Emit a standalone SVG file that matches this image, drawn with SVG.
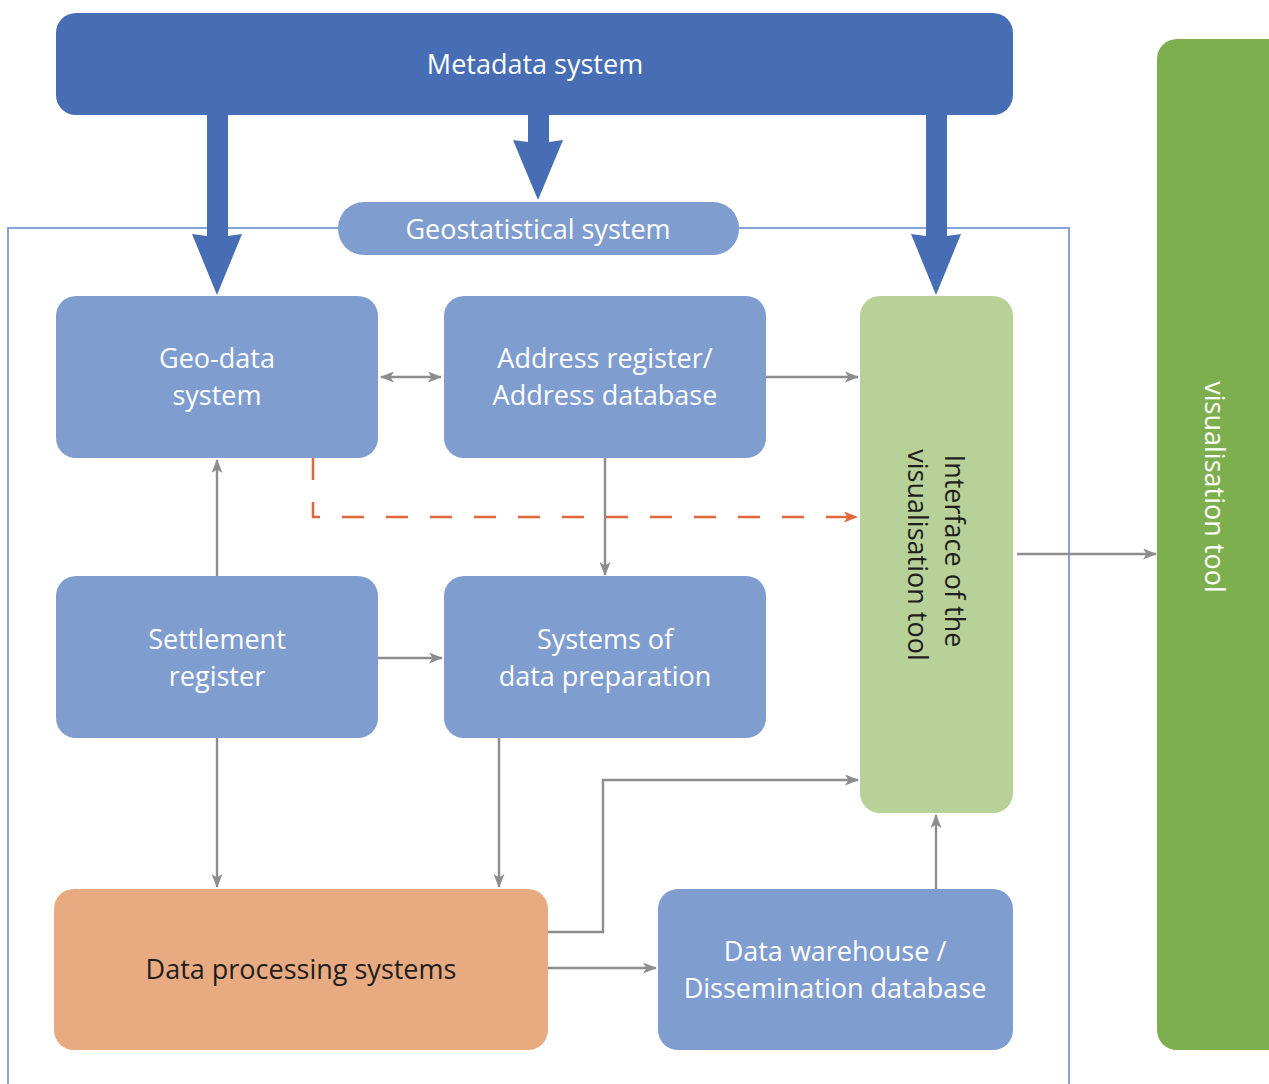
<svg xmlns="http://www.w3.org/2000/svg" width="1269" height="1084" viewBox="0 0 1269 1084">
<defs>
<style>
.t{font-family:"Open Sans","Liberation Sans",sans-serif;font-size:27px;fill:#fff;text-anchor:middle;dominant-baseline:central}
.d{fill:#1e1e1e}
.blue{fill:#7f9dcf}
.c{fill:none;stroke:#8d8d8d;stroke-width:2.4}
.big{fill:#476eb4}
</style>
<marker id="ah" viewBox="0 0 14 11" refX="13" refY="5.5" markerWidth="14" markerHeight="11" markerUnits="userSpaceOnUse" orient="auto-start-reverse">
<path d="M0,0 L14,5.5 L0,11 L3.5,5.5 Z" fill="#8d8d8d"/>
</marker>
<marker id="ao" viewBox="0 0 14 11" refX="13" refY="5.5" markerWidth="14" markerHeight="11" markerUnits="userSpaceOnUse" orient="auto">
<path d="M0,0 L14,5.5 L0,11 L3.5,5.5 Z" fill="#e2683c"/>
</marker>
</defs>
<rect width="1269" height="1084" fill="#fff"/>
<path d="M8,1084 V228 H1069 V1084" fill="none" stroke="#86a3d8" stroke-width="2"/>
<g id="visualisation-tool">
<rect x="1157" y="39" width="140" height="1011" rx="20" fill="#7daf4e"/>
<text class="t" transform="translate(1215,487) rotate(90)">visualisation tool</text>
</g>
<g id="metadata-system">
<rect x="56" y="13" width="957" height="102" rx="20" fill="#476eb4"/>
<text class="t" x="535" y="63">Metadata system</text>
</g>
<g id="geostatistical-system">
<rect x="338" y="202" width="401" height="53" rx="26" class="blue"/>
<text class="t" x="538" y="228">Geostatistical system</text>
</g>
<g id="geo-data-system">
<rect x="56" y="296" width="322" height="162" rx="20" class="blue"/>
<text class="t" x="217" y="357">Geo-data</text>
<text class="t" x="217" y="394">system</text>
</g>
<g id="address-register">
<rect x="444" y="296" width="322" height="162" rx="20" class="blue"/>
<text class="t" x="605" y="357">Address register/</text>
<text class="t" x="605" y="394">Address database</text>
</g>
<g id="settlement-register">
<rect x="56" y="576" width="322" height="162" rx="20" class="blue"/>
<text class="t" x="217" y="638">Settlement</text>
<text class="t" x="217" y="675">register</text>
</g>
<g id="systems-of-data-preparation">
<rect x="444" y="576" width="322" height="162" rx="20" class="blue"/>
<text class="t" x="605" y="638">Systems of</text>
<text class="t" x="605" y="675">data preparation</text>
</g>
<g id="interface">
<rect x="860" y="296" width="153" height="517" rx="20" fill="#b8d198"/>
<text class="t d" transform="translate(955,551) rotate(90)">Interface of the</text>
<text class="t d" transform="translate(918,555) rotate(90)">visualisation tool</text>
</g>
<g id="data-processing-systems">
<rect x="54" y="889" width="494" height="161" rx="20" fill="#e8aa80"/>
<text class="t d" x="301" y="968">Data processing systems</text>
</g>
<g id="data-warehouse">
<rect x="658" y="889" width="355" height="161" rx="20" class="blue"/>
<text class="t" x="835" y="950">Data warehouse /</text>
<text class="t" x="835" y="987">Dissemination database</text>
</g>
<g id="connectors">
<path class="big" d="M207,114 H228 V236 L242,234 L217,295 L192,234 L207,236 Z"/>
<path class="big" d="M528,114 H549 V142 L563,140 L538,200 L513,140 L528,142 Z"/>
<path class="big" d="M926,114 H947 V236 L961,234 L936,295 L911,234 L926,236 Z"/>
<path class="c" d="M381,377 H441" marker-start="url(#ah)" marker-end="url(#ah)"/>
<path class="c" d="M766,377 H858" marker-end="url(#ah)"/>
<path class="c" d="M605,458 V575" marker-end="url(#ah)"/>
<path class="c" d="M217,576 V460" marker-end="url(#ah)"/>
<path d="M313,458 V517 H857" fill="none" stroke="#e2683c" stroke-width="2.5" stroke-dasharray="22,22" marker-end="url(#ao)"/>
<path class="c" d="M378,658 H442" marker-end="url(#ah)"/>
<path class="c" d="M217,738 V887" marker-end="url(#ah)"/>
<path class="c" d="M499,738 V887" marker-end="url(#ah)"/>
<path class="c" d="M548,932 H603 V780 H858" marker-end="url(#ah)"/>
<path class="c" d="M548,968 H656" marker-end="url(#ah)"/>
<path class="c" d="M936,889 V815" marker-end="url(#ah)"/>
<path class="c" d="M1017,554 H1156" marker-end="url(#ah)"/>
</g>
</svg>
